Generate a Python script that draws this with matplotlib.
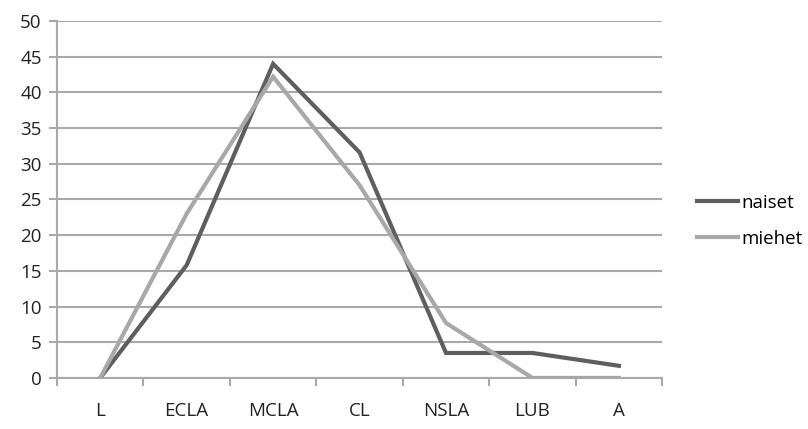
import numpy as np
import matplotlib.pyplot as plt

categories = ["L", "ECLA", "MCLA", "CL", "NSLA", "LUB", "A"]
naiset = [0, 15.8, 44.0, 31.6, 3.5, 3.5, 1.7]
miehet = [0, 23.0, 42.2, 27.0, 7.7, 0, 0]

plt.rcParams['font.family'] = ['Open Sans', 'DejaVu Sans']

fig = plt.figure(figsize=(8.08, 4.29), dpi=100)
ax = fig.add_axes([0.0705, 0.119, 0.749, 0.832])

x = np.arange(len(categories))
ax.plot(x, naiset, color="#5e5e5e", lw=3, label="naiset", solid_joinstyle="miter", zorder=3)
ax.plot(x, miehet, color="#a8a8a8", lw=3, label="miehet", solid_joinstyle="miter", zorder=3)

ax.set_xlim(-0.5, len(categories) - 0.5)
ax.set_ylim(0, 50)
ax.set_yticks(np.arange(0, 51, 5))
ax.grid(axis="y", color="#a9a9a9", lw=1.5)
ax.set_axisbelow(True)

# category ticks sit between the labels
ax.set_xticks(np.arange(-0.5, len(categories)), minor=False)
ax.set_xticklabels([])
ax.set_xticks(x, minor=True)
ax.set_xticklabels(categories, minor=True)
ax.tick_params(axis="x", which="minor", length=0, pad=17, labelsize=13.5, colors="#222222")
ax.tick_params(axis="x", which="major", length=6, width=1.5, color="#a9a9a9")
ax.tick_params(axis="y", length=6, width=1.5, color="#a9a9a9", labelsize=13.5, labelcolor="#222222", pad=5)

for side in ["top", "right"]:
    ax.spines[side].set_visible(False)
for side in ["left", "bottom"]:
    ax.spines[side].set_color("#a9a9a9")
    ax.spines[side].set_linewidth(1.5)

ax.legend(loc="center left", bbox_to_anchor=(1.03, 0.44), frameon=False,
          fontsize=13.5, handlelength=2.2, handletextpad=0.15, labelspacing=0.95)

fig.savefig("out.png", dpi=100)
